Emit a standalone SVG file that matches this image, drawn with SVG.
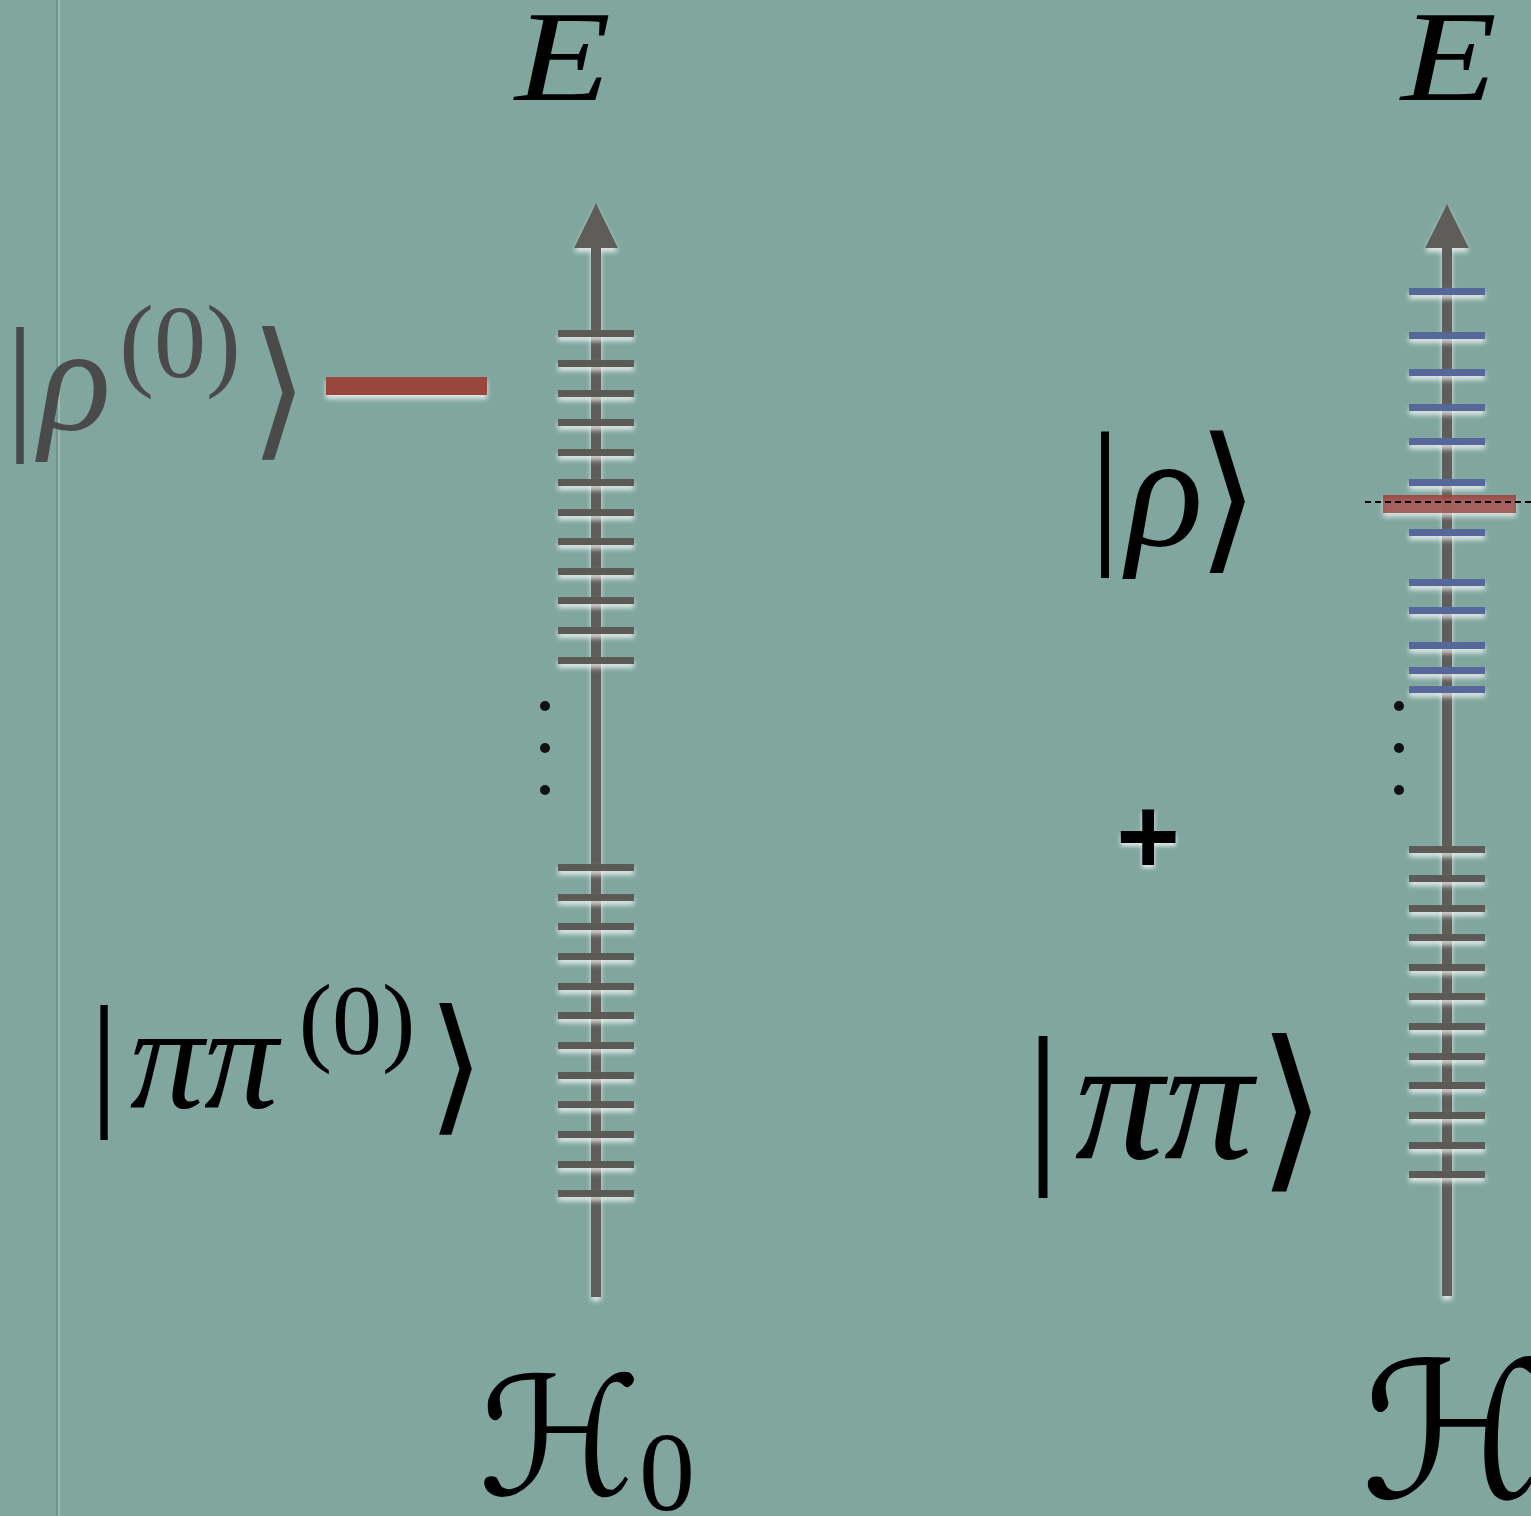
<svg xmlns="http://www.w3.org/2000/svg" width="1531" height="1516" viewBox="0 0 1531 1516">
<style>
.serif{font-family:"Liberation Serif","DejaVu Serif",serif}
.it{font-style:italic}
.br{font-family:"DejaVu Sans","Noto Sans",sans-serif}
.cal{font-family:"DejaVu Serif","DejaVu Sans",serif}
.axis{stroke:#5f5d5a;stroke-width:10;fill:none}
.tick{fill:#5c5a57}
.btick{fill:#56689a}
.dot{fill:#111}
</style>
<defs>
<filter id="glow" x="-20%" y="-50%" width="140%" height="250%">
<feDropShadow dx="0" dy="4" stdDeviation="2.5" flood-color="#ffffff" flood-opacity="0.75"/>
</filter>
<filter id="glow2" x="-20%" y="-20%" width="140%" height="140%">
<feDropShadow dx="0" dy="3" stdDeviation="2" flood-color="#ffffff" flood-opacity="0.8"/>
</filter>
</defs>
<rect width="1531" height="1516" fill="#80a69e"/>
<line x1="57" y1="0" x2="57" y2="1516" stroke="#6f8b85" stroke-width="1.5"/>
<line x1="59" y1="0" x2="59" y2="1516" stroke="#a3c0b9" stroke-width="1.5"/>

<g id="connectors">
<g id="axis-left" filter="url(#glow)">
<line class="axis" x1="596" y1="246" x2="596" y2="1297"/>
<polygon points="574,248 618,248 596,203" fill="#5f5d5a"/>
</g>
<g id="axis-right" filter="url(#glow)">
<line class="axis" x1="1447" y1="246" x2="1447" y2="1296"/>
<polygon points="1425,248 1469,248 1447,204" fill="#5f5d5a"/>
</g>
</g>

<g id="levels-left-upper" filter="url(#glow)">
<rect class="tick" x="558" y="330" width="76" height="7"/>
<rect class="tick" x="558" y="360" width="76" height="7"/>
<rect class="tick" x="558" y="390" width="76" height="7"/>
<rect class="tick" x="558" y="419" width="76" height="7"/>
<rect class="tick" x="558" y="449" width="76" height="7"/>
<rect class="tick" x="558" y="479" width="76" height="7"/>
<rect class="tick" x="558" y="509" width="76" height="7"/>
<rect class="tick" x="558" y="538" width="76" height="7"/>
<rect class="tick" x="558" y="568" width="76" height="7"/>
<rect class="tick" x="558" y="597" width="76" height="7"/>
<rect class="tick" x="558" y="627" width="76" height="7"/>
<rect class="tick" x="558" y="657" width="76" height="7"/>
</g>
<g id="levels-left-lower" filter="url(#glow)">
<rect class="tick" x="558" y="864" width="76" height="7"/>
<rect class="tick" x="558" y="894" width="76" height="7"/>
<rect class="tick" x="558" y="923" width="76" height="7"/>
<rect class="tick" x="558" y="953" width="76" height="7"/>
<rect class="tick" x="558" y="983" width="76" height="7"/>
<rect class="tick" x="558" y="1012" width="76" height="7"/>
<rect class="tick" x="558" y="1042" width="76" height="7"/>
<rect class="tick" x="558" y="1072" width="76" height="7"/>
<rect class="tick" x="558" y="1101" width="76" height="7"/>
<rect class="tick" x="558" y="1131" width="76" height="7"/>
<rect class="tick" x="558" y="1161" width="76" height="7"/>
<rect class="tick" x="558" y="1190" width="76" height="7"/>
</g>
<g id="rho0-level" filter="url(#glow)">
<rect x="326" y="377" width="161" height="18" fill="#99463e"/>
</g>
<g id="dots-left">
<circle class="dot" cx="545" cy="706" r="5"/>
<circle class="dot" cx="545" cy="748" r="5"/>
<circle class="dot" cx="545" cy="790" r="5"/>
</g>

<g id="levels-right-upper" filter="url(#glow)">
<rect class="btick" x="1409" y="288" width="76" height="7"/>
<rect class="btick" x="1409" y="332" width="76" height="7"/>
<rect class="btick" x="1409" y="369" width="76" height="7"/>
<rect class="btick" x="1409" y="404" width="76" height="7"/>
<rect class="btick" x="1409" y="438" width="76" height="7"/>
<rect class="btick" x="1409" y="479" width="76" height="7"/>
<rect class="btick" x="1409" y="529" width="76" height="7"/>
<rect class="btick" x="1409" y="579" width="76" height="7"/>
<rect class="btick" x="1409" y="607" width="76" height="7"/>
<rect class="btick" x="1409" y="642" width="76" height="7"/>
<rect class="btick" x="1409" y="667" width="76" height="7"/>
<rect class="btick" x="1409" y="686" width="76" height="7"/>
</g>
<g id="rho-level">
<rect x="1383" y="495" width="133" height="18" fill="#9c3f37" fill-opacity="0.9" filter="url(#glow)"/>
<line x1="1365" y1="502" x2="1531" y2="502" stroke="#000" stroke-width="2" stroke-dasharray="6 4"/>
</g>
<g id="levels-right-lower" filter="url(#glow)">
<rect class="tick" x="1409" y="846" width="76" height="7"/>
<rect class="tick" x="1409" y="875" width="76" height="7"/>
<rect class="tick" x="1409" y="905" width="76" height="7"/>
<rect class="tick" x="1409" y="934" width="76" height="7"/>
<rect class="tick" x="1409" y="964" width="76" height="7"/>
<rect class="tick" x="1409" y="993" width="76" height="7"/>
<rect class="tick" x="1409" y="1023" width="76" height="7"/>
<rect class="tick" x="1409" y="1053" width="76" height="7"/>
<rect class="tick" x="1409" y="1082" width="76" height="7"/>
<rect class="tick" x="1409" y="1112" width="76" height="7"/>
<rect class="tick" x="1409" y="1142" width="76" height="7"/>
<rect class="tick" x="1409" y="1171" width="76" height="7"/>
</g>
<g id="dots-right">
<circle class="dot" cx="1399" cy="706" r="5"/>
<circle class="dot" cx="1399" cy="748" r="5"/>
<circle class="dot" cx="1399" cy="790" r="5"/>
</g>

<g id="label-E-left"><text class="serif it" x="515" y="100" font-size="130" textLength="96" lengthAdjust="spacingAndGlyphs">E</text></g>
<g id="label-E-right"><text class="serif it" x="1401" y="100" font-size="130" textLength="96" lengthAdjust="spacingAndGlyphs">E</text></g>

<g id="label-rho0" fill="#4a4a4a">
<text class="serif" x="20" y="432" font-size="150" text-anchor="middle">|</text>
<text class="serif it" x="75" y="430" font-size="150" text-anchor="middle">ρ</text>
<text class="serif" x="180" y="377" font-size="104" text-anchor="middle">(0)</text>
<text class="br" x="279" y="440" font-size="150" text-anchor="middle">⟩</text>
</g>

<g id="label-pipi0">
<text class="serif" x="104" y="1108" font-size="148" text-anchor="middle">|</text>
<text class="serif it" x="204" y="1108" font-size="148" text-anchor="middle">ππ</text>
<text class="serif" x="357" y="1053" font-size="100" text-anchor="middle">(0)</text>
<text class="br" x="456" y="1115" font-size="148" text-anchor="middle">⟩</text>
</g>

<g id="label-rho">
<text class="serif" x="1105" y="544" font-size="160" text-anchor="middle">|</text>
<text class="serif it" x="1165" y="545" font-size="160" text-anchor="middle">ρ</text>
<text class="br" x="1228" y="552" font-size="160" text-anchor="middle">⟩</text>
</g>

<g id="label-plus" filter="url(#glow2)">
<text x="1148" y="874" font-family="Liberation Sans, sans-serif" font-weight="bold" font-size="110" text-anchor="middle">+</text>
</g>

<g id="label-pipi">
<text class="serif" x="1043" y="1160" font-size="178" text-anchor="middle">|</text>
<text class="serif it" x="1164" y="1158" font-size="178" text-anchor="middle">ππ</text>
<text class="br" x="1292" y="1168" font-size="178" text-anchor="middle">⟩</text>
</g>

<g id="label-H0">
<text class="cal" x="560" y="1495" font-size="165" text-anchor="middle">ℋ</text>
<text class="serif" x="667" y="1510" font-size="112" text-anchor="middle">0</text>
</g>
<g id="label-H">
<text class="cal" x="1455" y="1498" font-size="190" text-anchor="middle">ℋ</text>
</g>
</svg>
